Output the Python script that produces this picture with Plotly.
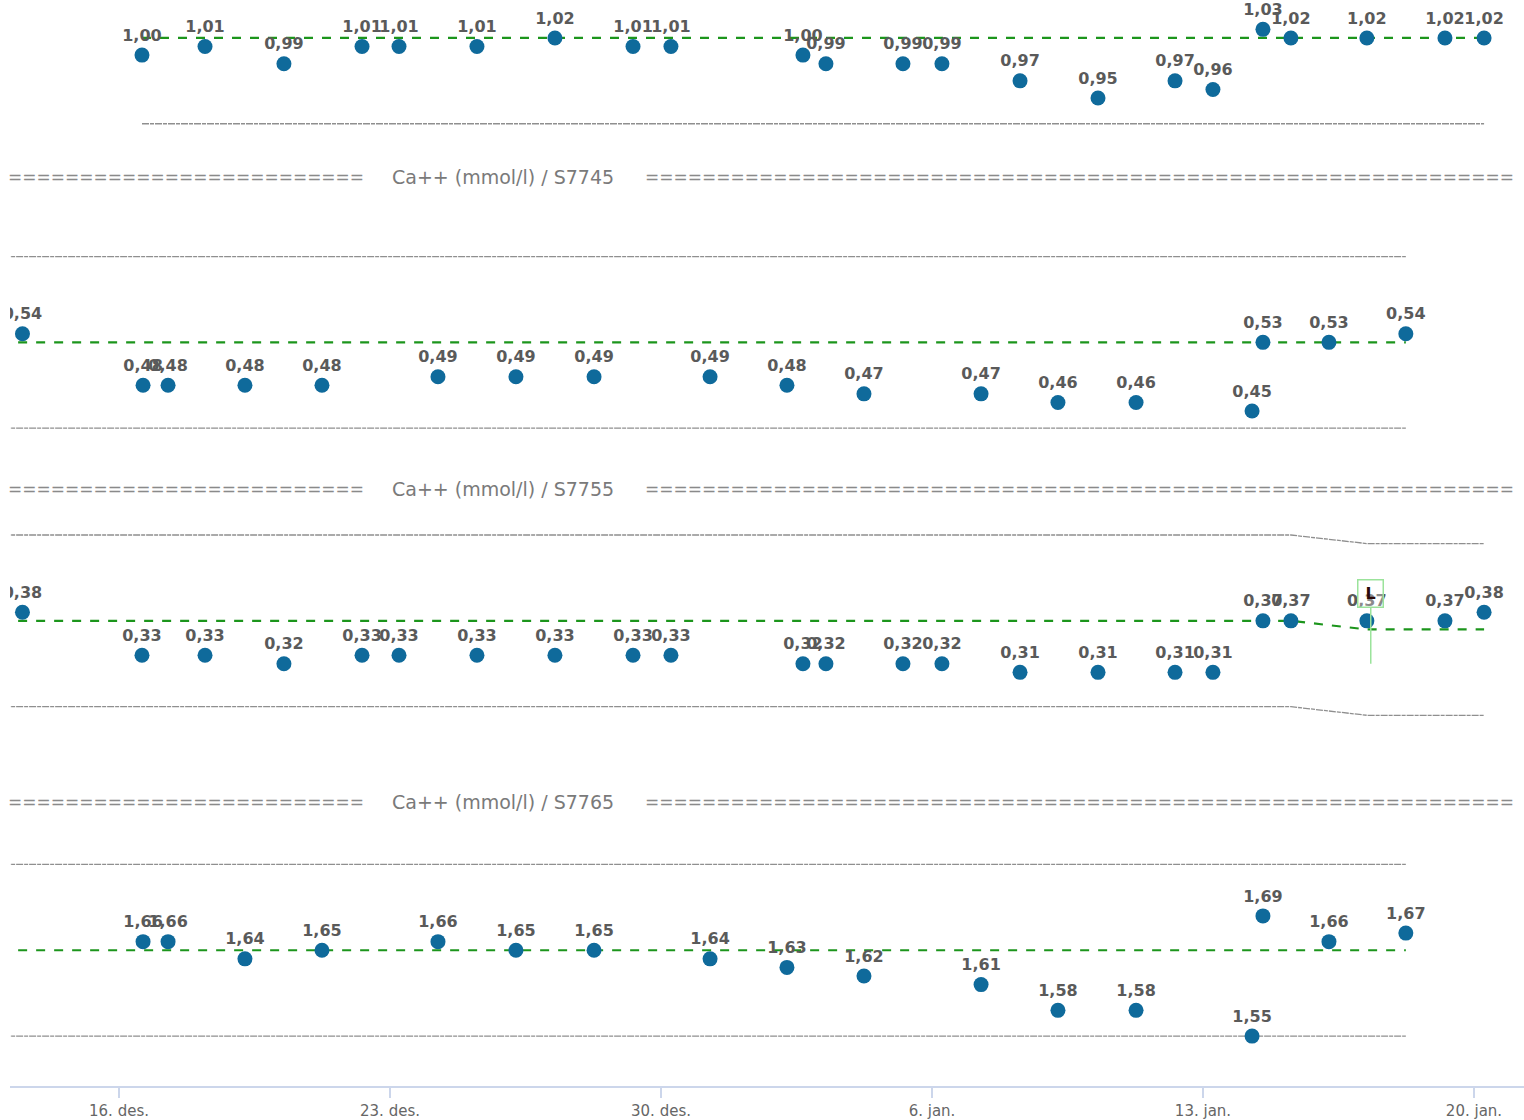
import plotly.graph_objects as go

# ---------------- data ----------------
# sample times for panel 1 and panel 3
times_a = ["2023-12-16 14:15", "2023-12-18 05:20", "2023-12-20 06:15", "2023-12-22 06:40",
           "2023-12-23 05:35", "2023-12-25 05:55", "2023-12-27 06:15", "2023-12-29 06:40",
           "2023-12-30 06:10", "2024-01-02 16:00", "2024-01-03 06:15", "2024-01-05 06:00",
           "2024-01-06 06:10", "2024-01-08 06:35", "2024-01-10 06:55", "2024-01-12 06:40",
           "2024-01-13 06:10", "2024-01-14 13:10", "2024-01-15 06:30", "2024-01-17 05:35",
           "2024-01-19 06:00", "2024-01-20 06:15"]
# sample times for panel 2 and panel 4
times_b = ["2023-12-16 14:55", "2023-12-17 06:25", "2023-12-19 06:05", "2023-12-21 05:50",
           "2023-12-24 05:45", "2023-12-26 06:05", "2023-12-28 06:30", "2023-12-31 06:25",
           "2024-01-02 06:05", "2024-01-04 05:50", "2024-01-07 06:25", "2024-01-09 06:05",
           "2024-01-11 06:30", "2024-01-14 06:25", "2024-01-14 13:10", "2024-01-16 06:05",
           "2024-01-18 05:45"]
early_time = "2023-12-13 12:10"
ref_start = "2023-12-12 00:00"

vals_1 = [1.00, 1.01, 0.99, 1.01, 1.01, 1.01, 1.02, 1.01, 1.01, 1.00, 0.99, 0.99,
          0.99, 0.97, 0.95, 0.97, 0.96, 1.03, 1.02, 1.02, 1.02, 1.02]
vals_2 = [0.54, 0.48, 0.48, 0.48, 0.48, 0.49, 0.49, 0.49, 0.49, 0.48, 0.47, 0.47,
          0.46, 0.46, 0.45, 0.53, 0.53, 0.54]
vals_3 = [0.38, 0.33, 0.33, 0.32, 0.33, 0.33, 0.33, 0.33, 0.33, 0.33, 0.32, 0.32,
          0.32, 0.32, 0.31, 0.31, 0.31, 0.31, 0.37, 0.37, 0.37, 0.37, 0.38]
vals_4 = [1.66, 1.66, 1.64, 1.65, 1.66, 1.65, 1.65, 1.64, 1.63, 1.62, 1.61, 1.58,
          1.58, 1.55, 1.69, 1.66, 1.67]

# reference (target / limit) levels
ref1_x = [times_a[0], times_a[-1]]
ref1_mid = [1.02, 1.02]
ref1_low = [0.92, 0.92]

ref2_x = [ref_start, times_b[-1]]
ref2_mid = [0.53, 0.53]
ref2_high = [0.63, 0.63]
ref2_low = [0.43, 0.43]

ref3_x = [ref_start, times_a[18], times_a[19], times_a[-1]]
ref3_mid = [0.37, 0.37, 0.36, 0.36]
ref3_high = [0.47, 0.47, 0.46, 0.46]
ref3_low = [0.27, 0.27, 0.26, 0.26]

ref4_x = [ref_start, times_b[-1]]
ref4_mid = [1.65, 1.65]
ref4_high = [1.75, 1.75]
ref4_low = [1.55, 1.55]

section_titles = ["Ca++ (mmol/l) / S7745", "Ca++ (mmol/l) / S7755", "Ca++ (mmol/l) / S7765"]

tick_vals = ["2023-12-16", "2023-12-23", "2023-12-30", "2024-01-06", "2024-01-13", "2024-01-20"]
tick_text = ["16. des.", "23. des.", "30. des.", "6. jan.", "13. jan.", "20. jan."]

flag_time = "2024-01-17 08:00"
flag_text = "L"

x_range = ["2023-12-13 04:26", "2024-01-21 07:00"]

# ---------------- styling / layout ----------------
W, H = 1524, 1120
M_L, M_R, M_T, M_B = 10, 0, 0, 32
PH = H - M_T - M_B  # plot height in px
SCALE = 860.0       # px per unit on every panel

MARKER = "#0f6a9b"
GREEN = "#1c951c"
GRAY = "#8f8f8f"
LABEL = "#5a5a5a"
FONT = "DejaVu Sans"

# panel pixel bands (top, bottom) and an anchor (value, pixel)
bands = [(0, 150, 1.02, 38), (190, 462, 0.53, 343), (505, 772, 0.37, 622), (820, 1088, 1.65, 952)]


def fmt(v):
    return f"{v:.2f}".replace(".", ",")


fig = go.Figure()

panels = [
    (times_a, vals_1, ref1_x, ref1_mid, None, ref1_low),
    ([early_time] + times_b, vals_2, ref2_x, ref2_mid, ref2_high, ref2_low),
    ([early_time] + times_a, vals_3, ref3_x, ref3_mid, ref3_high, ref3_low),
    (times_b, vals_4, ref4_x, ref4_mid, ref4_high, ref4_low),
]

for i, (tx, vy, rx, rmid, rhigh, rlow) in enumerate(panels):
    yname = "y" if i == 0 else f"y{i + 1}"
    for lim in (rhigh, rlow):
        if lim is not None:
            fig.add_trace(go.Scatter(x=rx, y=lim, mode="lines", yaxis=yname, hoverinfo="skip",
                                     line=dict(color=GRAY, width=1.3, dash="7px,1px,4px,1px"),
                                     showlegend=False))
    fig.add_trace(go.Scatter(x=rx, y=rmid, mode="lines", yaxis=yname, hoverinfo="skip",
                             line=dict(color=GREEN, width=2.2, dash="dash"), showlegend=False))
    fig.add_trace(go.Scatter(
        x=tx, y=vy, mode="markers+text", yaxis=yname, showlegend=False,
        text=[fmt(v) for v in vy], textposition="top center",
        textfont=dict(family=FONT, size=16, color=LABEL, weight="bold"),
        marker=dict(color=MARKER, size=15, line=dict(width=0)),
    ))

layout = dict(
    width=W, height=H,
    margin=dict(l=M_L, r=M_R, t=M_T, b=M_B),
    paper_bgcolor="white", plot_bgcolor="white",
    showlegend=False,
    xaxis=dict(type="date", range=x_range, anchor="y4", showgrid=False, zeroline=False,
               showline=True, linecolor="#ccd6eb", linewidth=2,
               ticks="outside", ticklen=10, tickwidth=2, tickcolor="#ccd6eb",
               tickvals=tick_vals, ticktext=tick_text,
               tickfont=dict(family=FONT, size=15, color="#666666")),
)
for i, (top, bot, v0, p0) in enumerate(bands):
    key = "yaxis" if i == 0 else f"yaxis{i + 1}"
    layout[key] = dict(
        domain=[1 - bot / PH, 1 - top / PH],
        range=[v0 - (bot - p0) / SCALE, v0 + (p0 - top) / SCALE],
        visible=False, showgrid=False, zeroline=False, fixedrange=True,
    )
fig.update_layout(**layout)

# section separators
sep_rows = [177, 490, 803]
PW = W - M_L - M_R
for title, py in zip(section_titles, sep_rows):
    yp = 1 - py / PH
    fig.add_annotation(xref="paper", yref="paper", x=(366 - M_L) / PW, y=yp,
                       xanchor="right", yanchor="middle", showarrow=False,
                       text="=" * 25, font=dict(family=FONT, size=17, color="#8a8a8a"))
    fig.add_annotation(xref="paper", yref="paper", x=(503 - M_L) / PW, y=yp,
                       xanchor="center", yanchor="middle", showarrow=False,
                       text=title, font=dict(family=FONT, size=19, color="#7a7a7a"))
    fig.add_annotation(xref="paper", yref="paper", x=(643 - M_L) / PW, y=yp,
                       xanchor="left", yanchor="middle", showarrow=False,
                       text="=" * 61, font=dict(family=FONT, size=17, color="#8a8a8a"))

# flag
fig.add_annotation(x=flag_time, y=0.32, xref="x", yref="y3", text=f"<b>{flag_text}</b>",
                   showarrow=True, arrowhead=0, arrowwidth=1.5, arrowcolor="#9be39b",
                   ax=0, ay=-70, bordercolor="#9be39b", borderwidth=1.5, borderpad=2,
                   bgcolor="rgba(255,255,255,0.3)", width=20, height=22,
                   font=dict(family=FONT, size=16, color="#2a0a0a"))

fig.write_html("out.html", config={"displayModeBar": False},
               post_script="document.body.style.margin='0';")
